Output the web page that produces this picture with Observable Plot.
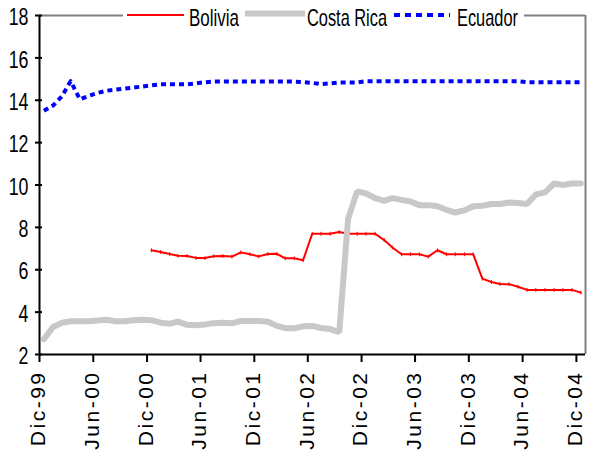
<!DOCTYPE html>
<html>
<head>
<meta charset="utf-8">
<script src="https://cdn.jsdelivr.net/npm/d3@7"></script>
<script src="https://cdn.jsdelivr.net/npm/@observablehq/plot@0.6"></script>
<style>
  html, body { margin: 0; padding: 0; background: #fff; }
  #wrap { position: relative; width: 606px; height: 456px; }
  #legend { position: absolute; left: 0; top: 0; }
</style>
</head>
<body>
<div id="wrap"></div>
<script>
// Monthly values, Dic-99 .. Dic-04 (61 months)
const ecuador = [
  13.5, 13.75, 14.2, 14.9, 14.05, 14.2, 14.35, 14.45, 14.5, 14.55, 14.6, 14.65,
  14.7, 14.75, 14.75, 14.75, 14.75, 14.8, 14.85, 14.88, 14.88, 14.88, 14.88, 14.88,
  14.88, 14.88, 14.88, 14.88, 14.88, 14.85, 14.82, 14.76, 14.8, 14.84, 14.84, 14.84,
  14.9, 14.9, 14.9, 14.9, 14.9, 14.9, 14.9, 14.9, 14.9, 14.9, 14.9, 14.9,
  14.9, 14.9, 14.9, 14.9, 14.9, 14.9, 14.85, 14.85, 14.85, 14.85, 14.85, 14.85,
  14.85
];
const costaRica = [
  2.72, 3.3, 3.5, 3.57, 3.57, 3.57, 3.6, 3.64, 3.57, 3.57, 3.62, 3.64,
  3.62, 3.5, 3.45, 3.55, 3.4, 3.38, 3.42, 3.48, 3.5, 3.47, 3.58, 3.58,
  3.58, 3.55, 3.35, 3.24, 3.24, 3.33, 3.35, 3.25, 3.2, 3.05, 8.4, 9.7,
  9.6, 9.38, 9.25, 9.38, 9.3, 9.22, 9.05, 9.05, 9.0, 8.83, 8.7, 8.8,
  9.0, 9.02, 9.1, 9.1, 9.17, 9.15, 9.1, 9.55, 9.65, 10.07, 10.0, 10.07,
  10.07
];
const bolivia = [
  null, null, null, null, null, null, null, null, null, null, null, null,
  6.92, 6.84, 6.74, 6.66, 6.65, 6.56, 6.55, 6.64, 6.65, 6.62, 6.82, 6.73,
  6.63, 6.74, 6.75, 6.54, 6.54, 6.45, 7.7, 7.7, 7.7, 7.78, 7.7, 7.7,
  7.7, 7.7, 7.4, 7.05, 6.73, 6.73, 6.73, 6.62, 6.92, 6.73, 6.73, 6.73,
  6.73, 5.58, 5.42, 5.33, 5.32, 5.2, 5.05, 5.05, 5.05, 5.05, 5.05, 5.05,
  4.92
];
const seriesNames = ["Bolivia", "Costa Rica", "Ecuador"];
const xTickLabels = ["Dic-99","Jun-00","Dic-00","Jun-01","Dic-01","Jun-02","Dic-02","Jun-03","Dic-03","Jun-04","Dic-04"];
const yTicks = [2, 4, 6, 8, 10, 12, 14, 16, 18];

const monthDate = i => new Date(Date.UTC(1999, 11 + i, 16));
const tickDates = xTickLabels.map((_, k) => new Date(Date.UTC(1999, 11 + 6 * k, 1)));
const xStart = new Date(Date.UTC(1999, 11, 1));
const xEnd = new Date(Date.UTC(2005, 0, 1));

const toRows = arr => arr.map((v, i) => ({date: monthDate(i), v}));
const bolRows = toRows(bolivia);
const crRows = toRows(costaRica);
const ecRows = toRows(ecuador);

const font = "'Liberation Sans', Arial, sans-serif";

const chart = Plot.plot({
  width: 606,
  height: 456,
  marginLeft: 39,
  marginRight: 21,
  marginTop: 15,
  marginBottom: 102,
  style: {background: "#fff", overflow: "visible"},
  x: {type: "utc", domain: [xStart, xEnd], label: null},
  y: {domain: [2, 18], label: null},
  marks: [
    // frame
    Plot.ruleY([18], {stroke: "#808080", strokeWidth: 2}),
    Plot.ruleX([xEnd], {stroke: "#808080", strokeWidth: 2}),
    Plot.ruleX([xStart], {stroke: "#000", strokeWidth: 2}),
    Plot.ruleY([2], {stroke: "#000", strokeWidth: 2}),
    // axes
    Plot.axisX({ticks: tickDates, tickSize: 8, text: null, label: null, strokeWidth: 2, stroke: "#000"}),
    Plot.axisX({
      ticks: tickDates, tickSize: 0, tickPadding: 16, tickRotate: -90, dx: -1, label: null,
      tickFormat: (d, i) => xTickLabels[i],
      fontSize: 21, fontFamily: font, fill: "#000"
    }),
    Plot.axisY({ticks: yTicks, tickSize: 7, dx: 3, text: null, label: null, strokeWidth: 2, stroke: "#000"}),
    Plot.axisY({
      ticks: yTicks, tickSize: 0, tickPadding: 11, dy: 2, label: null,
      tickFormat: d => String(d),
      fontSize: 24, fontFamily: font, fill: "#000"
    }),
    // series
    Plot.line(bolRows, {x: "date", y: "v", stroke: "#ff0000", strokeWidth: 2, defined: d => d.v != null}),
    Plot.link(bolRows.filter(d => d.v != null), {
      x1: "date", x2: "date", y1: d => d.v - 0.09, y2: d => d.v + 0.09,
      stroke: "#ff0000", strokeWidth: 1
    }),
    Plot.line(crRows, {x: "date", y: "v", stroke: "#c8c8c8", strokeWidth: 6, strokeLinejoin: "miter"}),
    Plot.line(ecRows, {x: "date", y: "v", stroke: "#0000ff", strokeWidth: 4, strokeDasharray: "5,4", strokeLinecap: "butt"})
  ]
});

const wrap = document.getElementById("wrap");
wrap.appendChild(chart);

// x labels: spaced lettering
chart.querySelectorAll("g[aria-label='x-axis tick label'] text").forEach(t => {
  t.style.letterSpacing = "2.5px";
});
// y labels: condensed
chart.querySelectorAll("g[aria-label='y-axis tick label'] text").forEach(t => {
  const w = t.getComputedTextLength();
  t.setAttribute("textLength", (w * 0.74).toFixed(1));
  t.setAttribute("lengthAdjust", "spacingAndGlyphs");
});

// Legend overlay on top frame line
const ns = "http://www.w3.org/2000/svg";
const leg = document.createElementNS(ns, "svg");
leg.setAttribute("id", "legend");
leg.setAttribute("width", 606);
leg.setAttribute("height", 32);
const items = [
  {name: seriesNames[0], x1: 127, x2: 184, y: 15, stroke: "#ff0000", w: 2, dash: null, tx: 189, len: 50},
  {name: seriesNames[1], x1: 245, x2: 305, y: 13.5, stroke: "#c8c8c8", w: 6, dash: null, tx: 307, len: 80},
  {name: seriesNames[2], x1: 394, x2: 450, y: 15, stroke: "#0000ff", w: 4, dash: "6,5", tx: 457, len: 61}
];
const bg = document.createElementNS(ns, "rect");
bg.setAttribute("x", 123); bg.setAttribute("y", 2);
bg.setAttribute("width", 401); bg.setAttribute("height", 28);
bg.setAttribute("fill", "#fff");
leg.appendChild(bg);
for (const it of items) {
  const l = document.createElementNS(ns, "line");
  l.setAttribute("x1", it.x1); l.setAttribute("x2", it.x2);
  l.setAttribute("y1", it.y); l.setAttribute("y2", it.y);
  l.setAttribute("stroke", it.stroke); l.setAttribute("stroke-width", it.w);
  if (it.dash) l.setAttribute("stroke-dasharray", it.dash);
  leg.appendChild(l);
  const t = document.createElementNS(ns, "text");
  t.setAttribute("x", it.tx); t.setAttribute("y", 26);
  t.setAttribute("font-family", font);
  t.setAttribute("font-size", 24);
  t.setAttribute("fill", "#000");
  t.setAttribute("textLength", it.len);
  t.setAttribute("lengthAdjust", "spacingAndGlyphs");
  t.textContent = it.name;
  leg.appendChild(t);
}
wrap.appendChild(leg);
</script>
</body>
</html>
